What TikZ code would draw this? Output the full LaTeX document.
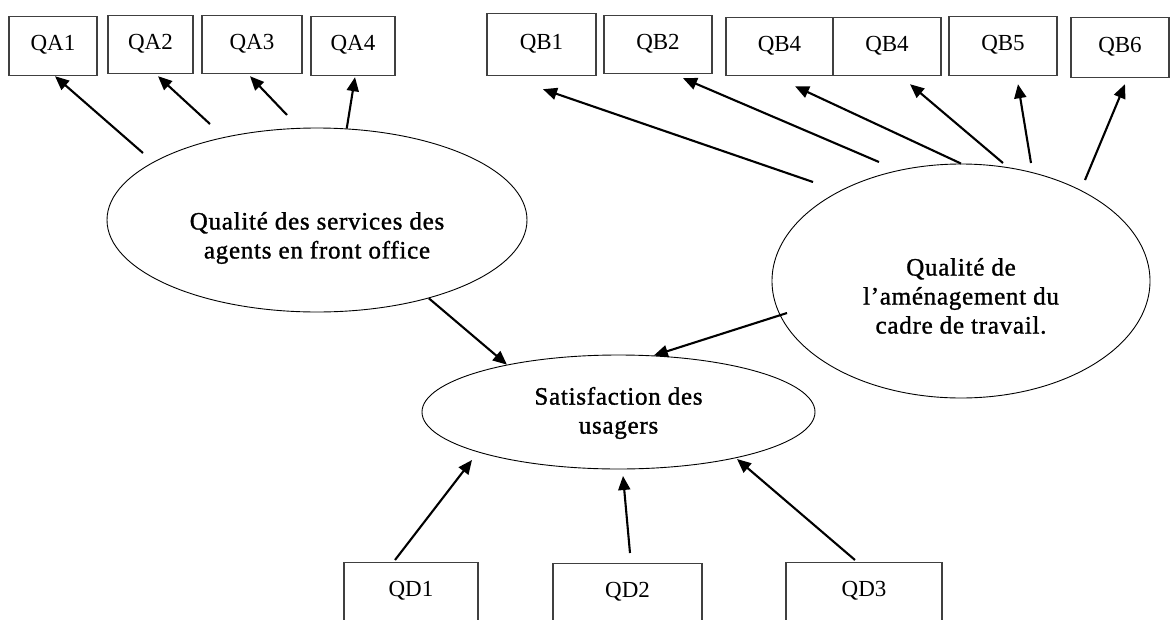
\documentclass[tikz,border=0pt]{standalone}
\usepackage{fontspec}
\setmainfont{Liberation Serif}
\newfontfamily\ellfont{Liberation Serif}[FakeBold=1.2, LetterSpace=3]
\usetikzlibrary{shapes.geometric,arrows.meta}
\begin{document}
\begin{tikzpicture}[x=1pt,y=-1pt,
  qbox/.style={draw=black!75, line width=1.2pt, rectangle, anchor=north, inner sep=0pt,
    text height=16pt, text depth=7pt, font=\fontsize{23}{27}\selectfont},
  qdbox/.style={qbox, minimum height=100pt, text depth=48pt},
  ell/.style={draw, ellipse, line width=0.9pt, inner sep=0pt},
  ltext/.style={align=center, inner sep=0pt, font=\ellfont\fontsize{25}{29}\selectfont},
  arr/.style={line width=2.1pt, -{Triangle[length=14pt,width=12pt]}}]
\useasboundingbox (0,0) rectangle (1171,619);
\clip (0,0) rectangle (1171,619);
\fill[white] (0,0) rectangle (1171,619);

% top-left boxes
\node[qbox, minimum width=88pt, minimum height=59pt] (QA1) at (53,16) {QA1};
\node[qbox, minimum width=85pt, minimum height=58pt] (QA2) at (150.5,15) {QA2};
\node[qbox, minimum width=100pt, minimum height=58pt] (QA3) at (252,15) {QA3};
\node[qbox, minimum width=84pt, minimum height=59pt] (QA4) at (353,16) {QA4};

% top-right boxes
\node[qbox, minimum width=109pt, minimum height=62pt] (QB1) at (541.5,13) {QB1};
\node[qbox, minimum width=108pt, minimum height=58pt] (QB2) at (658,15) {QB2};
\node[qbox, minimum width=107pt, minimum height=58pt] (QB4a) at (779.5,17) {QB4};
\node[qbox, minimum width=108pt, minimum height=58pt] (QB4b) at (887,17) {QB4};
\node[qbox, minimum width=108pt, minimum height=59pt] (QB5) at (1003,16) {QB5};
\node[qbox, minimum width=98pt, minimum height=60pt] (QB6) at (1120,17) {QB6};

% bottom boxes
\node[qdbox, minimum width=134pt] (QD1) at (411,562) {QD1};
\node[qdbox, minimum width=149pt] (QD2) at (627.5,563) {QD2};
\node[qdbox, minimum width=156pt] (QD3) at (864,562) {QD3};

% ellipses
\node[ell, minimum width=420pt, minimum height=184pt,
  label={[ltext, yshift=-18pt]center:{Qualité des services des\\agents en front office}}] (A) at (317,220) {};
\node[ell, minimum width=378pt, minimum height=234pt,
  label={[ltext, yshift=-15pt]center:{Qualité de\\l’aménagement du\\cadre de travail.}}] (B) at (961,281) {};
\node[ell, minimum width=393pt, minimum height=114pt,
  label={[ltext, yshift=-1pt]center:{Satisfaction des\\usagers}}] (C) at (618.5,412) {};

% free ends
\coordinate (a1) at (143,153);
\coordinate (a2) at (210,124);
\coordinate (a3) at (287,115);
\coordinate (b1) at (813,182);
\coordinate (b2) at (879,162);
\coordinate (b4) at (1003,163);
\coordinate (b5) at (1031,163);
\coordinate (b6) at (1085,180);
\coordinate (bc) at (787,313);
\coordinate (d1) at (472,460);
\coordinate (d2) at (623,476);
\coordinate (d3) at (737,459);

% arrows from A
\draw[arr] (a1) -- ([shift={(2,0)}]QA1.south);
\draw[arr] (a2) -- ([shift={(7.5,2)}]QA2.south);
\draw[arr] (a3) -- ([shift={(-2,2)}]QA3.south);
\draw[arr] (A.72) -- ([shift={(2,1)}]QA4.south);

% arrows from B
\draw[arr] (b1) -- ([shift={(1.5,13)}]QB1.south);
\draw[arr] (b2) -- ([shift={(25,4)}]QB2.south);
\draw[arr] (B.90) -- ([shift={(15.5,10)}]QB4a.south);
\draw[arr] (b4) -- ([shift={(23,8)}]QB4b.south);
\draw[arr] (b5) -- ([shift={(15,8)}]QB5.south);
\draw[arr] (b6) -- ([shift={(5,6)}]QB6.south);

% arrows into C
\draw[arr] (A.-35) -- (C.157);
\draw[arr] (bc) -- (C.58);
\draw[arr] ([shift={(-16,-2)}]QD1.north) -- (d1);
\draw[arr] ([shift={(2.5,-10)}]QD2.north) -- (d2);
\draw[arr] ([shift={(-9,-2)}]QD3.north) -- (d3);
\end{tikzpicture}
\end{document}
